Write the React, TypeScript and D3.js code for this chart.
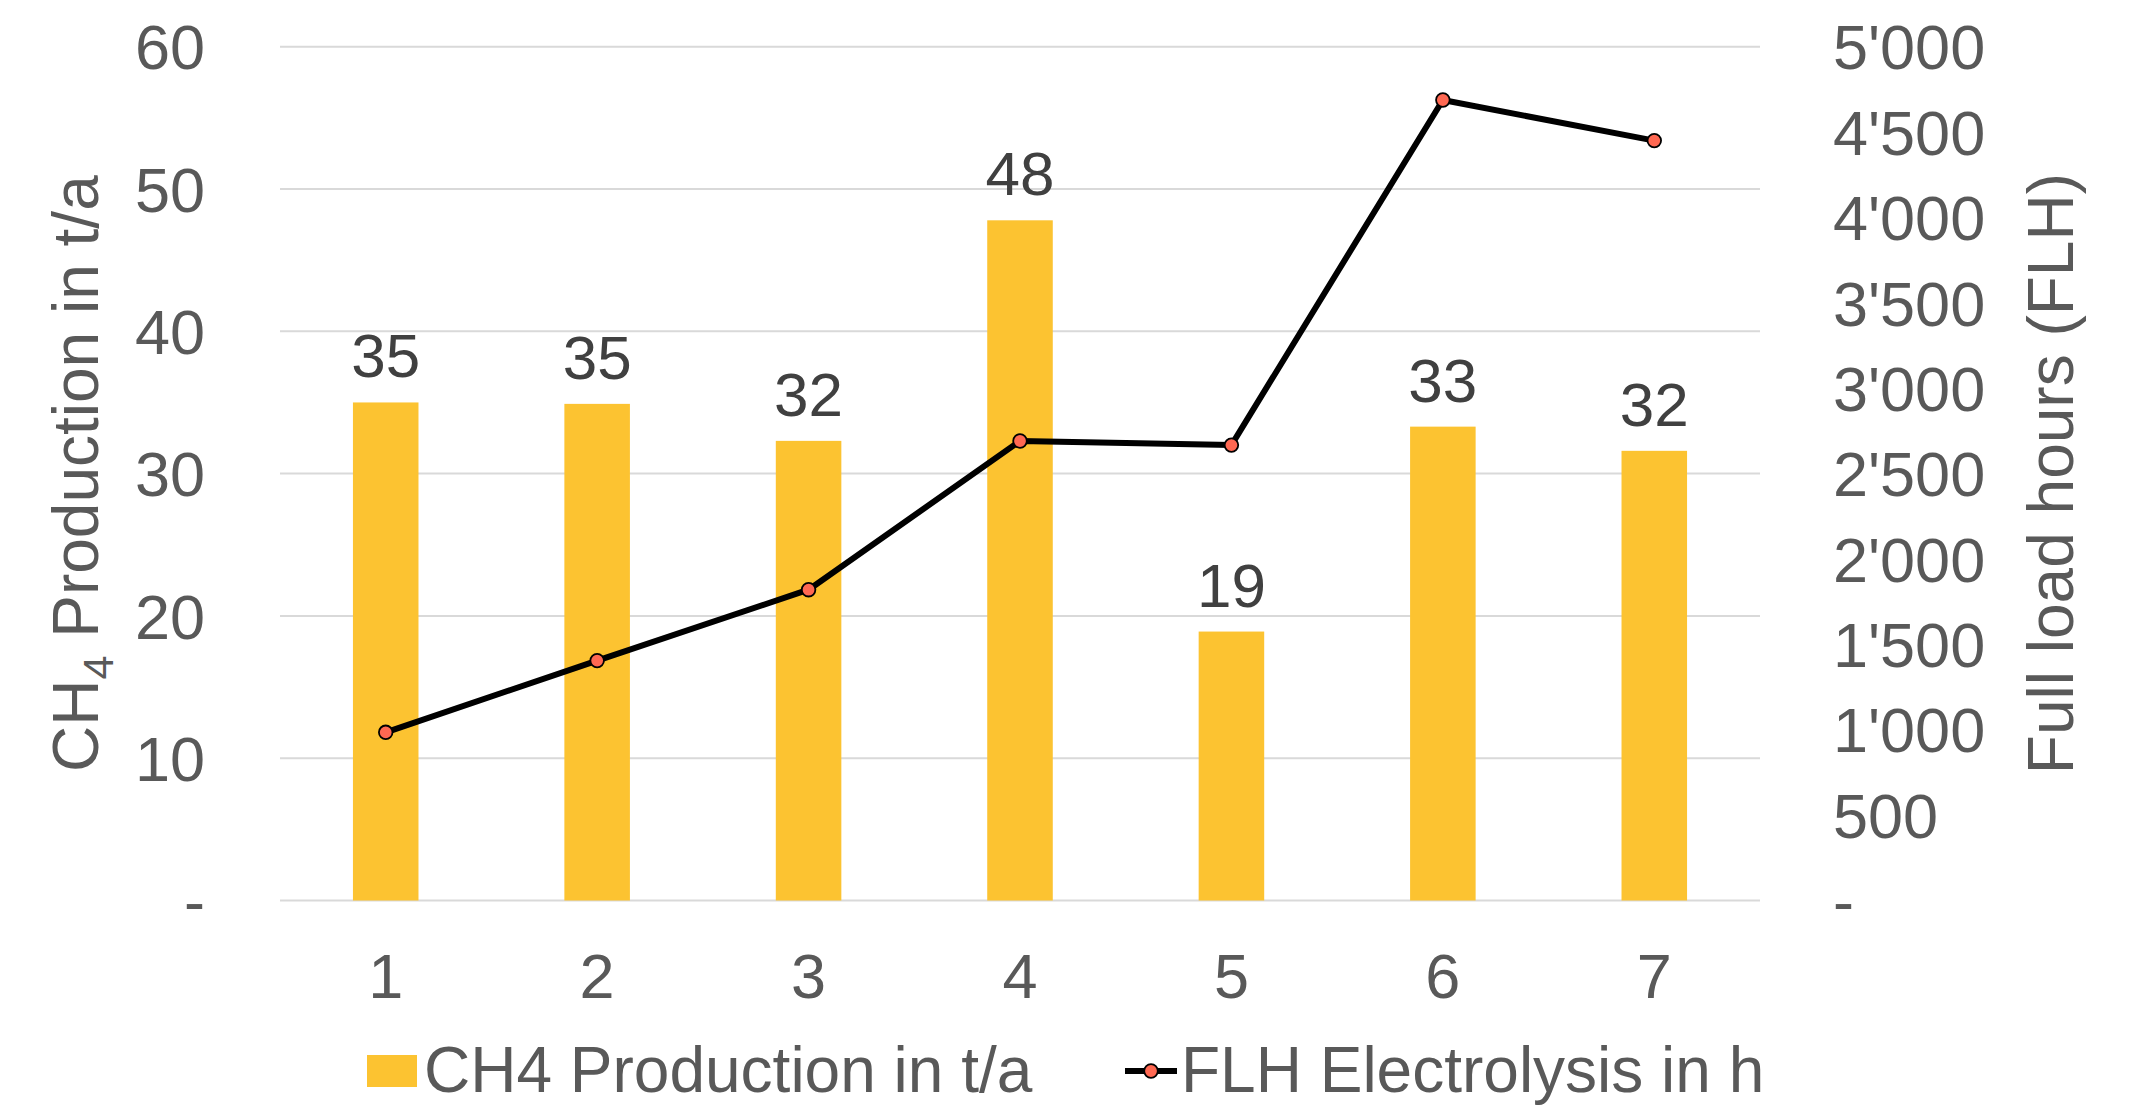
import React from "react";
import * as d3 from "d3";

// Scenario numbers on the x axis
const categories = ["1", "2", "3", "4", "5", "6", "7"];
// CH4 production per scenario (t/a), left axis
const ch4Production = [35.0, 34.9, 32.3, 47.8, 18.9, 33.3, 31.6];
// Full load hours of the electrolysis per scenario (h), right axis
const flhElectrolysis = [985, 1405, 1820, 2691, 2667, 4688, 4450];
// Axis ticks
const leftTicks = [0, 10, 20, 30, 40, 50, 60];
const rightTicks = [0, 500, 1000, 1500, 2000, 2500, 3000, 3500, 4000, 4500, 5000];

const W = 2131;
const H = 1105;
const plot = { left: 280, right: 1760, top: 46.7, bottom: 900.5 };

const FONT = "'Liberation Sans', Arial, Helvetica, sans-serif";
const AXIS_COLOR = "#595959";
const LABEL_COLOR = "#404040";
const BAR_COLOR = "#FCC331";
const MARKER_COLOR = "#FF6852";
const GRID_COLOR = "#D9D9D9";

const swissLocale = d3.formatLocale({
  decimal: ".",
  thousands: "'",
  grouping: [3],
  currency: ["", ""],
});
const fmtThousands = swissLocale.format(",");
const fmtRight = (v: number) => (v === 0 ? "-" : fmtThousands(v));
const fmtLeft = (v: number) => (v === 0 ? "-" : String(v));
const fmtBar = d3.format(".0f");

export default function App() {
  const x = d3
    .scaleBand<string>()
    .domain(categories)
    .range([plot.left, plot.right])
    .padding(0);
  const yLeft = d3.scaleLinear().domain([0, 60]).range([plot.bottom, plot.top]);
  const yRight = d3.scaleLinear().domain([0, 5000]).range([plot.bottom, plot.top]);

  const bw = x.bandwidth();
  const barW = bw * 0.31;
  const cx = (c: string) => (x(c) as number) + bw / 2;

  const line = d3
    .line<number>()
    .x((_, i) => cx(categories[i]))
    .y((d) => yRight(d));

  return (
    <svg
      width={W}
      height={H}
      viewBox={`0 0 ${W} ${H}`}
      style={{ position: "absolute", left: 0, top: 0, background: "#fff" }}
      fontFamily={FONT}
    >
      <rect x={0} y={0} width={W} height={H} fill="#fff" />

      {/* horizontal gridlines */}
      {leftTicks.map((t) => (
        <line
          key={`g${t}`}
          x1={plot.left}
          x2={plot.right}
          y1={yLeft(t)}
          y2={yLeft(t)}
          stroke={GRID_COLOR}
          strokeWidth={2}
        />
      ))}

      {/* left axis tick labels */}
      {leftTicks.map((t) => (
        <text
          key={`l${t}`}
          x={205}
          y={yLeft(t)}
          dy="0.36em"
          textAnchor="end"
          fontSize={63}
          fill={AXIS_COLOR}
        >
          {fmtLeft(t)}
        </text>
      ))}

      {/* right axis tick labels */}
      {rightTicks.map((t) => (
        <text
          key={`r${t}`}
          x={1833}
          y={yRight(t)}
          dy="0.36em"
          textAnchor="start"
          fontSize={63}
          fill={AXIS_COLOR}
        >
          {fmtRight(t)}
        </text>
      ))}

      {/* bars */}
      {ch4Production.map((v, i) => (
        <rect
          key={`b${i}`}
          x={cx(categories[i]) - barW / 2}
          y={yLeft(v)}
          width={barW}
          height={yLeft(0) - yLeft(v)}
          fill={BAR_COLOR}
        />
      ))}

      {/* bar value labels */}
      {ch4Production.map((v, i) => (
        <text
          key={`bl${i}`}
          x={cx(categories[i])}
          y={yLeft(v) - 25}
          textAnchor="middle"
          fontSize={62}
          fill={LABEL_COLOR}
        >
          {fmtBar(v)}
        </text>
      ))}

      {/* full load hours line */}
      <path
        d={line(flhElectrolysis) || ""}
        fill="none"
        stroke="#000"
        strokeWidth={6}
        strokeLinejoin="round"
      />
      {flhElectrolysis.map((v, i) => (
        <circle
          key={`m${i}`}
          cx={cx(categories[i])}
          cy={yRight(v)}
          r={6.8}
          fill={MARKER_COLOR}
          stroke="#000"
          strokeWidth={1.8}
        />
      ))}

      {/* x axis labels */}
      {categories.map((c) => (
        <text
          key={`x${c}`}
          x={cx(c)}
          y={998}
          textAnchor="middle"
          fontSize={63}
          fill={AXIS_COLOR}
        >
          {c}
        </text>
      ))}

      {/* left axis title */}
      <text
        transform={`translate(98, ${(plot.top + plot.bottom) / 2}) rotate(-90)`}
        textAnchor="middle"
        fontSize={64}
        fill={AXIS_COLOR}
      >
        <tspan>CH</tspan>
        <tspan fontSize={43} dy={15}>
          4
        </tspan>
        <tspan dy={-15}> Production in t/a</tspan>
      </text>

      {/* right axis title */}
      <text
        transform={`translate(2073, ${(plot.top + plot.bottom) / 2}) rotate(-90)`}
        textAnchor="middle"
        fontSize={64}
        fill={AXIS_COLOR}
      >
        Full load hours (FLH)
      </text>

      {/* legend */}
      <rect x={367} y={1055} width={50} height={32} fill={BAR_COLOR} />
      <text x={424} y={1092} fontSize={64} fill={AXIS_COLOR}>
        CH4 Production in t/a
      </text>
      <line x1={1125} x2={1177} y1={1071} y2={1071} stroke="#000" strokeWidth={6} />
      <circle cx={1151} cy={1071} r={6.8} fill={MARKER_COLOR} stroke="#000" strokeWidth={1.8} />
      <text x={1181} y={1092} fontSize={64} fill={AXIS_COLOR}>
        FLH Electrolysis in h
      </text>
    </svg>
  );
}
